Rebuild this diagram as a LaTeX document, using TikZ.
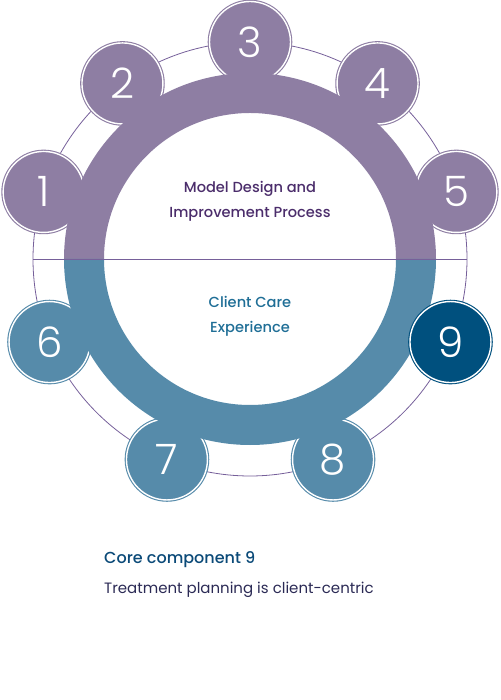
\documentclass[tikz,border=0pt]{standalone}
\usepackage{fontspec}
\setmainfont{Poppins}
\newfontfamily\numfont[UprightFont=* Light]{Poppins}
\newfontfamily\headfont[UprightFont=* Medium]{Poppins}
\usepackage{tikz}

\definecolor{lilac}{HTML}{8E7EA3}
\definecolor{teal}{HTML}{568BAA}
\definecolor{navy}{HTML}{00507E}
\definecolor{rimline}{HTML}{76609A}
\definecolor{titlepurple}{HTML}{4B2D6B}
\definecolor{titleblue}{HTML}{1F6E96}
\definecolor{corecol}{HTML}{0B4A78}
\definecolor{textcol}{HTML}{2B2A55}

\begin{document}
\begin{tikzpicture}[x=1pt, y=1pt, stepdot/.style={
		% The shape:
		circle,
		% The size:
		minimum size=81pt, inner sep=0pt,
		% The border
		draw=white, line width=1.4pt,
		% The filling
		fill=#1, preaction={draw=#1, line width=3.6pt},
		% The number
		text=white, font=\numfont\fontsize{42}{42}\selectfont}]
    \useasboundingbox (-250,-441) rectangle (250,259);
    \coordinate (o) at (0,0);
    % outer thin rim
    \draw [rimline, line width=0.8pt] (o) circle (217);
    % the nine steps
    \node [stepdot=lilac] (c1) at (162:217) {1};
    \node [stepdot=lilac] (c2) at (126:217) {2};
    \node [stepdot=lilac] (c3) at (90:217) {3};
    \node [stepdot=lilac] (c4) at (54:217) {4};
    \node [stepdot=lilac] (c5) at (18:217) {5};
    \node [stepdot=teal] (c6) at (-157.5:217) {6};
    \node [stepdot=teal] (c7) at (-112.5:217) {7};
    \node [stepdot=teal] (c8) at (-67.5:217) {8};
    % the big ring
    \fill [lilac] (186,0) arc [start angle=0, end angle=180, radius=186] -- (-146,0)
        arc [start angle=180, end angle=0, radius=146] -- cycle;
    \fill [teal] (186,0) arc [start angle=0, end angle=-180, radius=186] -- (-146,0)
        arc [start angle=-180, end angle=0, radius=146] -- cycle;
    \node [stepdot=navy] (c9) at (-22.5:217) {9};
    \draw [rimline, line width=0.8pt] (-217,0) -- (217,0);
    % texts
    \node [text=titlepurple, font=\headfont\fontsize{14.6}{25}\selectfont, align=center, anchor=base] (top) at (0,41) {Model Design and\\Improvement Process};
    \node [text=titleblue, font=\headfont\fontsize{14.6}{25}\selectfont, align=center, anchor=base] (bottom) at (0,-74) {Client Care\\Experience};
    \node [text=corecol, font=\headfont\fontsize{16}{16}\selectfont, anchor=base west, inner sep=0pt] (core) at (-146,-304) {Core component 9};
    \node [text=textcol, font=\fontsize{15}{15}\selectfont, anchor=base west, inner sep=0pt] (desc) at (-146,-334) {Treatment planning is client-centric};
\end{tikzpicture}
\end{document}
